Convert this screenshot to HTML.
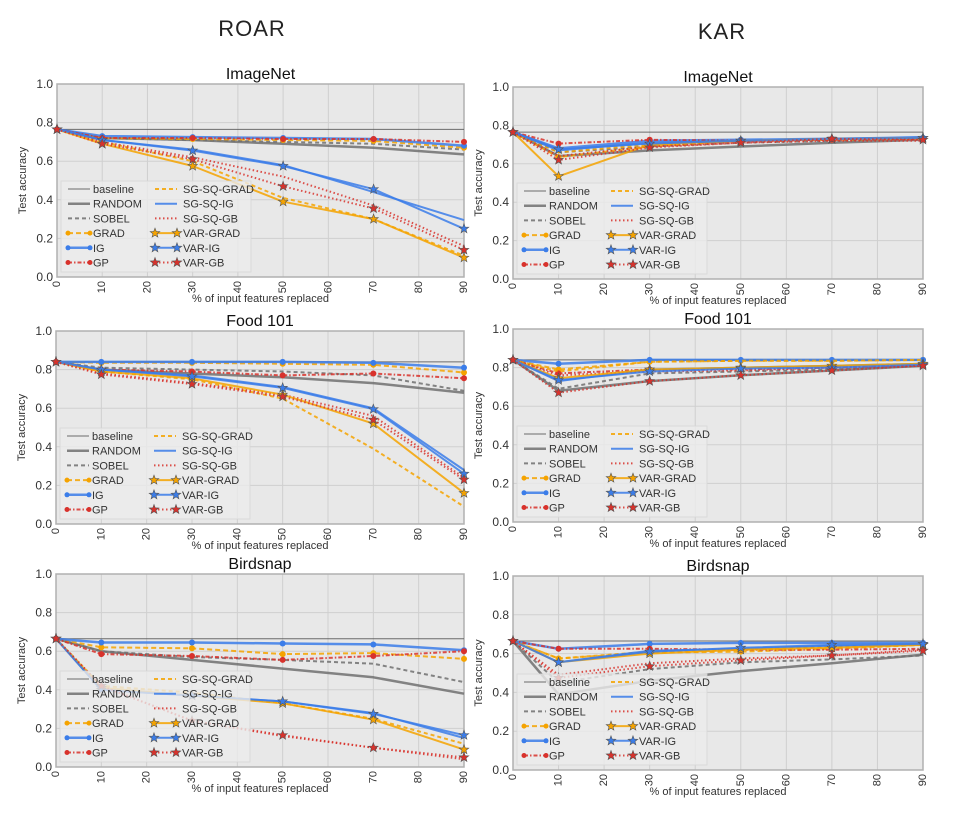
<!DOCTYPE html>
<html><head><meta charset="utf-8">
<style>
body{margin:0;background:#fff;font-family:"Liberation Sans",sans-serif;}
svg{display:block}
</style></head>
<body>
<svg id="fig" width="955" height="831" xmlns="http://www.w3.org/2000/svg" font-family="Liberation Sans, sans-serif">
<text x="252" y="36" font-size="22" text-anchor="middle" fill="#222" letter-spacing="1">ROAR</text>
<text x="722" y="39" font-size="22" text-anchor="middle" fill="#222" letter-spacing="1">KAR</text>
</svg>
<script>
const xVals=[0,10,30,50,70,90];
const xTicks=[0,10,20,30,40,50,60,70,80,90];
const yTicks=[0.0,0.2,0.4,0.6,0.8,1.0];
const seriesNames=["baseline","RANDOM","SOBEL","GRAD","IG","GP","SG-SQ-GRAD","SG-SQ-IG","SG-SQ-GB","VAR-GRAD","VAR-IG","VAR-GB"];

const roarImagenet=[
[.765,.765,.765,.765,.765,.765],
[.765,.72,.71,.69,.67,.635],
[.765,.72,.71,.70,.69,.66],
[.765,.72,.715,.71,.705,.67],
[.765,.73,.725,.72,.715,.68],
[.765,.72,.72,.715,.715,.70],
[.765,.70,.60,.41,.30,.11],
[.765,.71,.66,.58,.44,.295],
[.765,.70,.62,.52,.37,.16],
[.765,.69,.575,.39,.30,.10],
[.765,.71,.655,.575,.455,.25],
[.765,.69,.61,.47,.355,.14]];
const karImagenet=[
[.765,.765,.765,.765,.765,.765],
[.765,.64,.67,.69,.71,.725],
[.765,.66,.69,.71,.72,.73],
[.765,.635,.69,.72,.725,.73],
[.765,.68,.72,.725,.73,.735],
[.765,.705,.725,.72,.725,.73],
[.765,.66,.70,.72,.73,.735],
[.765,.67,.71,.72,.73,.74],
[.765,.64,.69,.71,.72,.72],
[.765,.535,.70,.72,.73,.735],
[.765,.675,.705,.72,.73,.735],
[.765,.62,.685,.71,.73,.725]];
const roarFood=[
[.84,.84,.84,.84,.84,.84],
[.84,.80,.78,.76,.73,.68],
[.84,.81,.80,.79,.77,.69],
[.84,.835,.835,.83,.825,.785],
[.84,.84,.84,.84,.835,.81],
[.84,.80,.79,.77,.78,.755],
[.84,.79,.75,.65,.39,.09],
[.84,.80,.77,.71,.60,.28],
[.84,.78,.73,.67,.56,.24],
[.84,.79,.755,.67,.52,.16],
[.84,.80,.765,.705,.595,.26],
[.84,.775,.725,.66,.54,.23]];
const karFood=[
[.84,.84,.84,.84,.84,.84],
[.84,.68,.73,.76,.785,.81],
[.84,.69,.77,.78,.79,.81],
[.84,.79,.83,.835,.835,.84],
[.84,.82,.84,.84,.84,.84],
[.84,.77,.79,.79,.80,.815],
[.84,.78,.83,.835,.835,.84],
[.84,.73,.79,.80,.81,.82],
[.84,.76,.78,.785,.80,.81],
[.84,.745,.79,.80,.81,.82],
[.84,.735,.78,.795,.80,.815],
[.84,.67,.73,.76,.785,.81]];
const roarBird=[
[.665,.665,.665,.665,.665,.665],
[.665,.60,.555,.51,.465,.38],
[.665,.60,.57,.555,.535,.44],
[.665,.62,.615,.585,.59,.56],
[.665,.645,.645,.64,.635,.605],
[.665,.585,.575,.555,.575,.60],
[.665,.42,.385,.33,.25,.12],
[.665,.40,.37,.34,.28,.15],
[.665,.42,.24,.16,.10,.04],
[.665,.41,.37,.33,.245,.09],
[.665,.40,.37,.34,.275,.165],
[.665,.42,.24,.165,.10,.05]];
const karBird=[
[.665,.665,.665,.665,.665,.665],
[.665,.39,.46,.51,.55,.595],
[.665,.45,.52,.555,.57,.59],
[.665,.575,.605,.61,.625,.645],
[.665,.625,.65,.655,.655,.655],
[.665,.625,.625,.62,.62,.625],
[.665,.575,.61,.62,.635,.65],
[.665,.555,.615,.625,.64,.645],
[.665,.49,.55,.575,.59,.62],
[.665,.555,.60,.62,.63,.645],
[.665,.555,.61,.63,.645,.65],
[.665,.475,.535,.565,.59,.615]];

const OR="#f5a300",BL="#3b7de9",RD="#d8322c",GR="#707070";
const styles=[
{c:"#555",w:1,d:""},
{c:GR,w:2.5,d:""},
{c:GR,w:2,d:"4,3"},
{c:OR,w:2,d:"5,3",m:"o"},
{c:BL,w:2.5,d:"",m:"o"},
{c:RD,w:2,d:"4,2,1.5,2",m:"o"},
{c:OR,w:2,d:"4,3"},
{c:BL,w:2,d:""},
{c:RD,w:2,d:"1.5,2.5"},
{c:OR,w:2,d:"",m:"s"},
{c:BL,w:2,d:"",m:"s"},
{c:RD,w:2,d:"1.5,2.5",m:"s"}];

const panels=[
{id:"roar-imagenet",t:"ImageNet",l:57,r:464,top:84,bot:277,data:roarImagenet},
{id:"kar-imagenet",t:"ImageNet",l:513,r:923,top:87,bot:279,data:karImagenet},
{id:"roar-food101",t:"Food 101",l:56,r:464,top:331,bot:524,data:roarFood},
{id:"kar-food101",t:"Food 101",l:513,r:923,top:329,bot:522,data:karFood},
{id:"roar-birdsnap",t:"Birdsnap",l:56,r:464,top:574,bot:767,data:roarBird},
{id:"kar-birdsnap",t:"Birdsnap",l:513,r:923,top:576,bot:770,data:karBird}];

const NS="http://www.w3.org/2000/svg";
const svg=document.getElementById("fig");
function mk(tag,attrs,parent,txt){const e=document.createElementNS(NS,tag);for(const k in attrs)e.setAttribute(k,attrs[k]);if(txt!==undefined)e.textContent=txt;parent.appendChild(e);return e;}
function starPts(cx,cy,R){let p=[];for(let i=0;i<10;i++){const r=i%2?R*0.42:R;const a=-Math.PI/2+i*Math.PI/5;p.push((cx+r*Math.cos(a)).toFixed(1)+","+(cy+r*Math.sin(a)).toFixed(1));}return p.join(" ");}
function marker(g,s,x,y,sz){
  if(s.m==="o"){const c=mk("circle",{cx:x,cy:y,r:sz||3,fill:s.c},g);}
  else if(s.m==="s"){const c=mk("polygon",{points:starPts(x,y,sz?sz+2:5),fill:s.c,stroke:"#555","stroke-width":0.6},g);}
}

panels.forEach(p=>{
  const g=mk("g",{},svg);
  
  
  const sx=v=>p.l+(v-0)/90*(p.r-p.l);
  const sy=v=>p.bot-v*(p.bot-p.top);
  const bg=mk("rect",{x:p.l,y:p.top,width:p.r-p.l,height:p.bot-p.top,fill:"#e8e8e8"},g);
  
  xTicks.forEach(t=>{
    const ln=mk("line",{x1:sx(t),x2:sx(t),y1:p.top,y2:p.bot,stroke:"#cfcfcf","stroke-width":1},g);
    
    const x=sx(t),y=p.bot+4;
    const tx=mk("text",{x:x,y:y,"font-size":11,fill:"#333","text-anchor":"end","dominant-baseline":"central",transform:`rotate(-90 ${x} ${y})`},g,String(t));
    
  });
  yTicks.forEach(t=>{
    const ln=mk("line",{x1:p.l,x2:p.r,y1:sy(t),y2:sy(t),stroke:"#cfcfcf","stroke-width":1},g);
    
    const tx=mk("text",{x:p.l-4,y:sy(t)+4,"font-size":12,fill:"#333","text-anchor":"end"},g,t.toFixed(1));
    
  });
  const fr=mk("rect",{x:p.l,y:p.top,width:p.r-p.l,height:p.bot-p.top,fill:"none",stroke:"#b0b0b0","stroke-width":1.5},g);
  
  const ti=mk("text",{x:(p.l+p.r)/2,y:p.top-5,"font-size":16,fill:"#111","text-anchor":"middle"},g,p.t);
  
  const xl=mk("text",{x:(p.l+p.r)/2,y:p.bot+25,"font-size":11,fill:"#333","text-anchor":"middle"},g,"% of input features replaced");
  
  const yx=p.l-31,yy=(p.top+p.bot)/2;
  const yl=mk("text",{x:yx,y:yy,"font-size":11,fill:"#333","text-anchor":"middle",transform:`rotate(-90 ${yx} ${yy})`},g,"Test accuracy");
  

  p.data.forEach((vals,i)=>{
    const s=styles[i];
    const pts=vals.map((v,j)=>sx(xVals[j]).toFixed(1)+","+sy(v).toFixed(1)).join(" ");
    const pl=mk("polyline",{points:pts,fill:"none",stroke:s.c,"stroke-width":s.w,"stroke-dasharray":s.d,"stroke-opacity":0.85,"stroke-linejoin":"round"},g);
    
    
    if(s.m) vals.forEach((v,j)=>marker(g,s,sx(xVals[j]),sy(v)));
  });

  const lg=mk("g",{},g);
  
  const lx=p.l+4,lh=91,ly=p.bot-5-lh;
  const lb=mk("rect",{x:lx,y:ly,width:190,height:lh,fill:"#ebebeb","fill-opacity":0.8,stroke:"#d6d6d6","stroke-width":0.8},lg);
  
  seriesNames.forEach((n,i)=>{
    const col=Math.floor(i/6),row=i%6;
    const s=styles[i];
    const y=ly+8+row*14.7;
    const x0=lx+(col?94:7),x1=x0+22;
    const e=mk("g",{},lg);
    
    mk("line",{x1:x0,x2:x1,y1:y,y2:y,stroke:s.c,"stroke-width":s.w,"stroke-dasharray":s.d,"stroke-opacity":0.85},e);
    if(s.m){marker(e,s,x0,y,s.m==="o"?2.5:3);marker(e,s,x1,y,s.m==="o"?2.5:3);}
    mk("text",{x:lx+(col?122:32),y:y+4,"font-size":11,fill:"#333"},e,n);
  });
});
</script>
</body></html>
